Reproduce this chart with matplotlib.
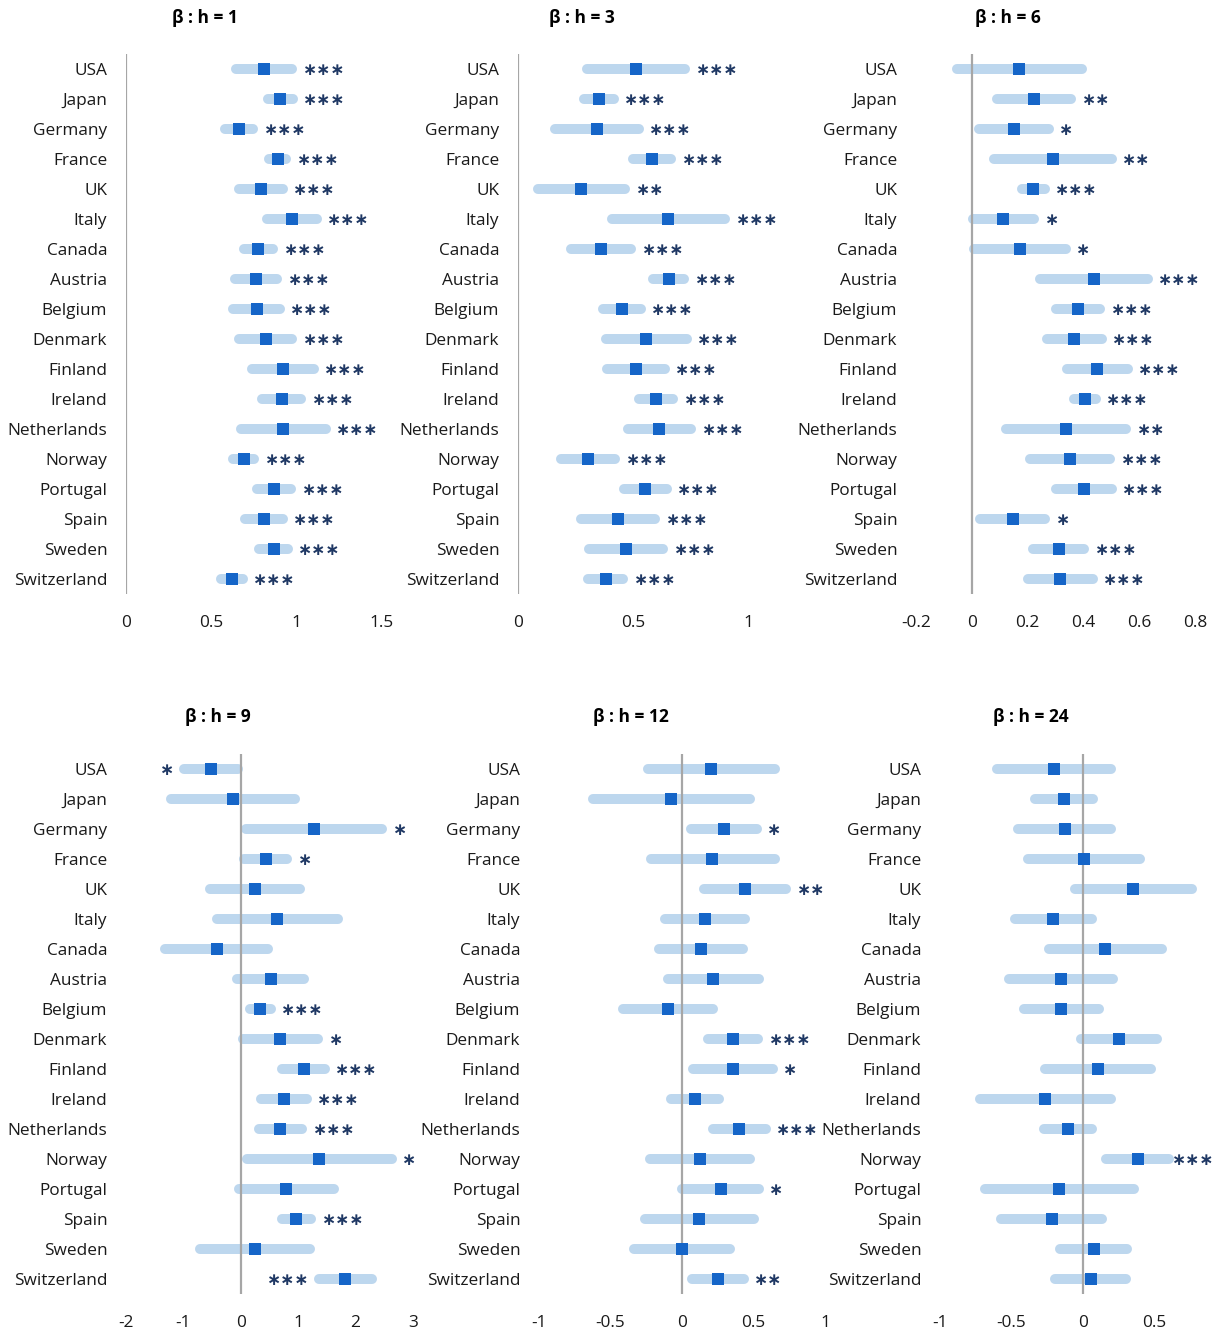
import matplotlib
matplotlib.use('Agg')
import matplotlib.pyplot as plt
from matplotlib.ticker import FuncFormatter

plt.rcParams['font.family'] = ['Open Sans', 'DejaVu Sans']

countries = ['USA', 'Japan', 'Germany', 'France', 'UK', 'Italy', 'Canada',
             'Austria', 'Belgium', 'Denmark', 'Finland', 'Ireland',
             'Netherlands', 'Norway', 'Portugal', 'Spain', 'Sweden',
             'Switzerland']

# h = 1
est_h1 = [0.810, 0.904, 0.663, 0.892, 0.790, 0.971, 0.776, 0.763, 0.765,
          0.818, 0.922, 0.912, 0.922, 0.692, 0.867, 0.808, 0.865, 0.622]
lo_h1 = [0.645, 0.831, 0.578, 0.841, 0.661, 0.827, 0.690, 0.641, 0.629,
         0.661, 0.741, 0.796, 0.675, 0.627, 0.765, 0.700, 0.782, 0.559]
hi_h1 = [0.975, 0.978, 0.745, 0.939, 0.920, 1.118, 0.863, 0.886, 0.902,
         0.975, 1.102, 1.027, 1.171, 0.751, 0.969, 0.918, 0.947, 0.684]
sig_h1 = ['***'] * 18

# h = 3
est_h3 = [0.513, 0.351, 0.343, 0.584, 0.276, 0.654, 0.360, 0.655, 0.452,
          0.558, 0.515, 0.599, 0.615, 0.304, 0.552, 0.435, 0.471, 0.381]
lo_h3 = [0.300, 0.286, 0.163, 0.502, 0.086, 0.407, 0.229, 0.587, 0.370,
         0.383, 0.389, 0.526, 0.477, 0.186, 0.461, 0.276, 0.309, 0.306]
hi_h3 = [0.728, 0.417, 0.525, 0.667, 0.467, 0.902, 0.493, 0.723, 0.535,
         0.733, 0.639, 0.676, 0.754, 0.423, 0.647, 0.597, 0.632, 0.458]
sig_h3 = ['***', '***', '***', '***', '**', '***', '***', '***', '***',
          '***', '***', '***', '***', '***', '***', '***', '***', '***']

# h = 6
est_h6 = [0.170, 0.223, 0.152, 0.290, 0.220, 0.113, 0.172, 0.437, 0.381,
          0.368, 0.450, 0.405, 0.337, 0.352, 0.403, 0.148, 0.312, 0.317]
lo_h6 = [-0.054, 0.090, 0.027, 0.080, 0.179, 0.005, 0.008, 0.246, 0.301,
         0.271, 0.343, 0.366, 0.123, 0.209, 0.300, 0.030, 0.220, 0.201]
hi_h6 = [0.394, 0.356, 0.276, 0.502, 0.262, 0.224, 0.337, 0.630, 0.460,
         0.465, 0.559, 0.444, 0.553, 0.496, 0.502, 0.264, 0.403, 0.434]
sig_h6 = ['', '**', '*', '**', '***', '*', '*', '***', '***',
          '***', '***', '***', '**', '***', '***', '*', '***', '***']

# h = 9
est_h9 = [-0.524, -0.140, 1.267, 0.436, 0.250, 0.639, -0.414, 0.524, 0.337,
          0.691, 1.099, 0.750, 0.691, 1.361, 0.796, 0.970, 0.244, 1.815]
lo_h9 = [-0.990, -1.222, 0.092, 0.063, -0.529, -0.419, -1.316, -0.059, 0.157,
         0.040, 0.726, 0.354, 0.319, 0.105, -0.035, 0.721, -0.716, 1.361]
hi_h9 = [-0.052, 0.942, 2.461, 0.808, 1.023, 1.693, 0.482, 1.099, 0.524,
         1.349, 1.466, 1.152, 1.070, 2.635, 1.628, 1.227, 1.197, 2.286]
sig_h9 = ['*', '', '*', '*', '', '', '', '', '***',
          '*', '***', '***', '***', '*', '', '***', '', '***']

# h = 12
est_h12 = [0.203, -0.075, 0.294, 0.212, 0.438, 0.158, 0.130, 0.214, -0.096,
           0.357, 0.354, 0.091, 0.401, 0.123, 0.270, 0.121, -0.003, 0.252]
lo_h12 = [-0.240, -0.620, 0.063, -0.219, 0.154, -0.121, -0.163, -0.100, -0.410,
          0.179, 0.079, -0.075, 0.219, -0.226, 0.000, -0.259, -0.336, 0.072]
hi_h12 = [0.650, 0.476, 0.524, 0.648, 0.730, 0.443, 0.427, 0.536, 0.219,
          0.534, 0.634, 0.259, 0.585, 0.478, 0.536, 0.503, 0.336, 0.431]
sig_h12 = ['', '', '*', '', '**', '', '', '', '',
           '***', '*', '', '***', '', '*', '', '', '**']

# h = 24
est_h24 = [-0.203, -0.131, -0.126, 0.009, 0.350, -0.207, 0.157, -0.156, -0.151,
           0.252, 0.103, -0.263, -0.107, 0.385, -0.165, -0.219, 0.077, 0.054]
lo_h24 = [-0.599, -0.333, -0.452, -0.382, -0.056, -0.478, -0.240, -0.520, -0.415,
          -0.016, -0.268, -0.720, -0.273, 0.159, -0.685, -0.571, -0.158, -0.193]
hi_h24 = [0.196, 0.072, 0.198, 0.401, 0.760, 0.065, 0.555, 0.210, 0.110,
          0.520, 0.473, 0.196, 0.061, 0.601, 0.355, 0.135, 0.310, 0.299]
sig_h24 = ['', '', '', '', '', '', '', '', '',
           '', '', '', '', '***', '', '', '', '']

LIGHT = '#bdd7ee'
DARK = '#1565c8'
STAR = '#1f3864'
AXIS = '#a6a6a6'

W, H = 1216, 1332
fig = plt.figure(figsize=(W / 100, H / 100), dpi=100)


def px_axes(left, top, width, height):
    return fig.add_axes([left / W, 1 - (top + height) / H, width / W, height / H])


# (title, est, lo, hi, sig, axes box in px, xlim, ticks, title centre px, stars on left)
panels = [
    ('β : h = 1', est_h1, lo_h1, hi_h1, sig_h1, (126, 54, 273, 540), (0, 1.6),
     [0, 0.5, 1, 1.5], (205, 18), []),
    ('β : h = 3', est_h3, lo_h3, hi_h3, sig_h3, (518, 54, 276, 540), (0, 1.2),
     [0, 0.5, 1], (582, 18), []),
    ('β : h = 6', est_h6, lo_h6, hi_h6, sig_h6, (916, 54, 279, 540), (-0.2, 0.8),
     [-0.2, 0, 0.2, 0.4, 0.6, 0.8], (1008, 18), []),
    ('β : h = 9', est_h9, lo_h9, hi_h9, sig_h9, (126, 754, 287, 540), (-2, 3),
     [-2, -1, 0, 1, 2, 3], (218, 717), ['USA', 'Switzerland']),
    ('β : h = 12', est_h12, lo_h12, hi_h12, sig_h12, (539, 754, 286, 540), (-1, 1),
     [-1, -0.5, 0, 0.5, 1], (631, 717), []),
    ('β : h = 24', est_h24, lo_h24, hi_h24, sig_h24, (940, 754, 286, 540), (-1, 1),
     [-1, -0.5, 0, 0.5], (1031, 717), []),
]

rows = list(range(len(countries)))
star_labels = []

for title, est, lo, hi, sig, box, xlim, ticks, tpos, left_side in panels:
    ax = px_axes(*box)
    ax.hlines(rows, lo, hi, color=LIGHT, lw=7.2, capstyle='round', zorder=1)
    ax.axvline(0, color=AXIS, lw=1.6, zorder=2)
    ax.plot(est, rows, 's', ms=8.4, color=DARK, mew=0, zorder=3)

    for i, s in enumerate(sig):
        if not s:
            continue
        stars = '∗' * len(s)
        if countries[i] in left_side:
            ann = ax.annotate(stars, (lo[i], i), xytext=(-7, -0.5), textcoords='offset points',
                              ha='right', va='center', color=STAR, fontsize=12.2,
                              fontweight='bold', family='DejaVu Sans', annotation_clip=False)
        else:
            ann = ax.annotate(stars, (hi[i], i), xytext=(7.5, -0.5), textcoords='offset points',
                              ha='left', va='center', color=STAR, fontsize=12.2,
                              fontweight='bold', family='DejaVu Sans', annotation_clip=False)
        star_labels.append(ann)

    ax.set_xlim(*xlim)
    ax.set_ylim(len(countries) - 0.5, -0.5)
    ax.set_xticks(ticks)
    ax.xaxis.set_major_formatter(FuncFormatter(lambda v, _: f'{v:g}'))
    ax.set_yticks(rows, countries)
    ax.tick_params(axis='y', length=0, pad=13.5, labelsize=12.4, labelcolor='#1a1a1a')
    ax.tick_params(axis='x', length=0, pad=15, labelsize=12.4, labelcolor='#1a1a1a')
    for sp in ax.spines.values():
        sp.set_visible(False)
    ax.patch.set_alpha(0)

    fig.text(tpos[0] / W, 1 - tpos[1] / H, title, ha='center', va='center',
             fontsize=12.5, fontweight='bold', color='#000000')

# keep significance labels inside the figure, nudging them left if needed
fig.canvas.draw()
for ann in star_labels:
    bb = ann.get_window_extent()
    over = bb.x1 - (W - 2)
    if over > 0:
        dx, dy = ann.xyann
        ann.xyann = (dx - over * 72 / fig.dpi, dy)

fig.savefig('out.png', dpi=100)
